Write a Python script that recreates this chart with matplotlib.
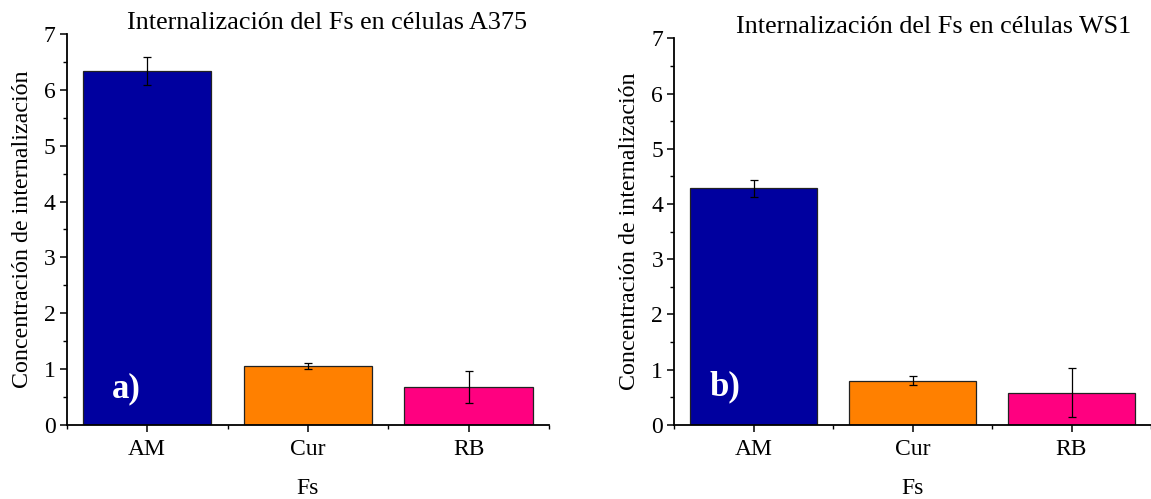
import matplotlib
matplotlib.use("Agg")
import matplotlib.pyplot as plt
from matplotlib.ticker import MultipleLocator, FixedLocator

plt.rcParams['font.family'] = ['Liberation Serif', 'DejaVu Serif']

categories = ["AM", "Cur", "RB"]
colors = ["#00009F", "#FF8000", "#FF0080"]

a375_values = [6.33, 1.06, 0.68]
a375_errors = [0.25, 0.05, 0.285]

ws1_values = [4.28, 0.80, 0.58]
ws1_errors = [0.155, 0.075, 0.44]

panels = [
    dict(values=a375_values, errors=a375_errors,
         title="Internalización del Fs en células A375", tag="a)",
         rect=[0.058, 0.1483, 0.419, 0.7836],
         title_xy=(0.2845, 0.941), tag_xy=(0.110, 0.220)),
    dict(values=ws1_values, errors=ws1_errors,
         title="Internalización del Fs en células WS1", tag="b)",
         rect=[0.5858, 0.1489, 0.4142, 0.7743],
         title_xy=(0.8109, 0.933), tag_xy=(0.630, 0.224)),
]

fig = plt.figure(figsize=(11.51, 4.99), dpi=100)

for p in panels:
    ax = fig.add_axes(p["rect"])
    x = list(range(1, len(categories) + 1))
    ax.bar(x, p["values"], width=0.8, color=colors, edgecolor="#222222",
           linewidth=0.9, zorder=2)
    ax.errorbar(x, p["values"], yerr=p["errors"], fmt="none", ecolor="black",
                elinewidth=0.9, capsize=2.8, capthick=0.9, zorder=3)
    ax.set_xlim(0.5, 3.5)
    ax.set_ylim(0, 7)
    ax.set_xticks(x)
    ax.set_xticklabels(categories)
    ax.xaxis.set_minor_locator(FixedLocator([0.5, 1.5, 2.5, 3.5]))
    ax.yaxis.set_major_locator(MultipleLocator(1))
    ax.yaxis.set_minor_locator(MultipleLocator(0.5))
    for side in ("top", "right"):
        ax.spines[side].set_visible(False)
    for side in ("left", "bottom"):
        ax.spines[side].set_linewidth(1.3)
    ax.tick_params(axis="both", which="major", direction="out", length=5,
                   width=1.1, labelsize=17, pad=3)
    ax.tick_params(axis="both", which="minor", direction="out", length=3,
                   width=1.0)
    ax.tick_params(axis="x", which="major", pad=5)
    ax.set_xlabel("Fs", fontsize=17, labelpad=13)
    ax.set_ylabel("Concentración de internalización", fontsize=17.3,
                  labelpad=8)
    fig.text(p["title_xy"][0], p["title_xy"][1], p["title"], fontsize=18.8,
             ha="center", va="baseline")
    fig.text(p["tag_xy"][0], p["tag_xy"][1], p["tag"], fontsize=25,
             fontweight="bold", color="white", ha="center", va="center")

fig.savefig("out.png", dpi=100)
